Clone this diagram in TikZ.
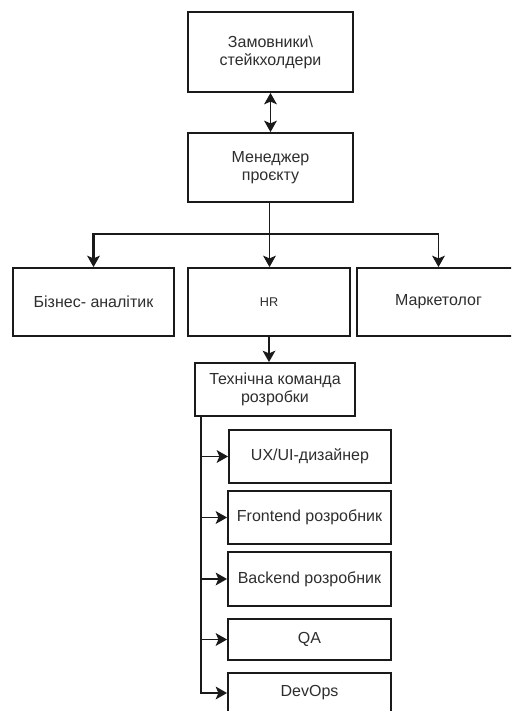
\documentclass[tikz,border=0pt]{standalone}
\usepackage{fontspec}
\setmainfont{Liberation Sans}
\usetikzlibrary{arrows.meta,calc}
\definecolor{ink}{HTML}{1A1A1A}
\definecolor{txt}{HTML}{2E2E2E}
\tikzset{tip/.tip={Stealth[length=8.5pt,width=9.5pt,inset=2pt]}}
\begin{document}
\begin{tikzpicture}[x=0.75pt,y=-0.75pt,
  box/.style={draw=ink, line width=1.4pt, fill=white, inner sep=0pt, align=center,
    text=txt, font=\fontsize{12}{13.5}\selectfont},
  link/.style={draw=ink, line width=1.4pt},
  arr/.style={link, -tip},
  biarr/.style={link, tip-tip},
]
\clip (0,0) rectangle (511,711);
\fill[white] (0,0) rectangle (511,711);

% management level
\node[box, minimum width=123.75pt, minimum height=60pt] (clients) at (270.5,52) {\raisebox{-3pt}{\parbox{110pt}{\centering Замовники\textbackslash\\стейкхолдери}}};
\node[box, minimum width=123.75pt, minimum height=51.75pt] (pm) at (270.5,167.5) {Менеджер\\проєкту};

% departments
\node[box, minimum width=120.75pt, minimum height=51pt] (ba) at (93.5,302) {Бізнес- аналітик};
\node[box, minimum width=121.5pt, minimum height=51pt, font=\fontsize{9.5}{11}\selectfont] (hr) at (269,302) {HR};
\node[box, minimum width=122.25pt, minimum height=51pt] (mk) at (438.5,302) {Маркетолог};

% technical team
\node[box, minimum width=120pt, minimum height=39.75pt] (tech) at (275,389.5) {Технічна команда\\розробки};
\node[box, minimum width=121.5pt, minimum height=39.75pt] (ux) at (310,456.5) {UX/UI-дизайнер};
\node[box, minimum width=122.25pt, minimum height=39.75pt] (fe) at (309.5,517.5) {Frontend розробник};
\node[box, minimum width=122.25pt, minimum height=40.5pt] (be) at (309.5,579) {Backend розробник};
\node[box, minimum width=122.25pt, minimum height=30.75pt] (qa) at (309.5,639.5) {QA};
\node[box, minimum width=122.25pt, minimum height=30pt] (devops) at (309.5,693) {DevOps};

% connectors
\draw[biarr] (clients.south) -- (pm.north);
\coordinate (fork) at ($(pm.south)+(-1,31)$);
\draw[link] (pm.south -| fork) -- (fork);
\draw[arr, line width=2pt] (fork) -| (ba.north);
\draw[arr] (fork) -- (fork |- hr.north);
\draw[arr] (fork) -| (mk.north);
\draw[arr] (hr.south) -- (hr.south |- tech.north);

\coordinate (spine) at ($(tech.south west)+(7,0)$);
\draw[arr] (spine) |- (ux.west);
\draw[arr] (spine) |- (fe.west);
\draw[arr] (spine) |- (be.west);
\draw[arr] (spine) |- (qa.west);
\draw[arr] (spine) |- (devops.west);
\end{tikzpicture}
\end{document}
